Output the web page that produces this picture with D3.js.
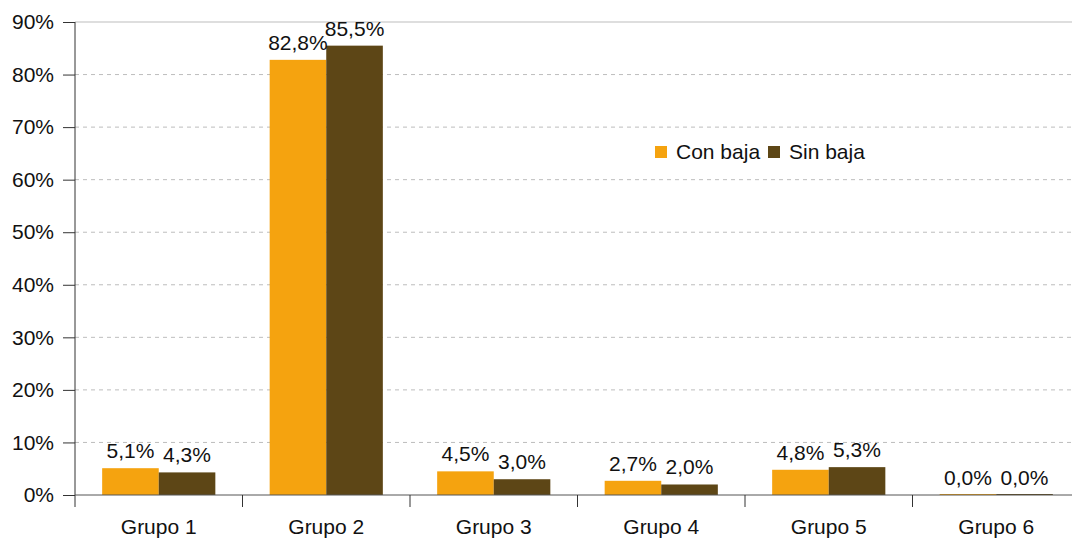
<!DOCTYPE html>
<html><head><meta charset="utf-8">
<script src="https://cdn.jsdelivr.net/npm/d3@7"></script>
<style>body{margin:0;background:#fff}svg{display:block;font-family:"Liberation Sans",Arial,sans-serif}</style>
</head><body><svg id="c" width="1072" height="538"></svg>
<script>
const categories = ["Grupo 1","Grupo 2","Grupo 3","Grupo 4","Grupo 5","Grupo 6"];
const seriesNames = ["Con baja","Sin baja"];
const conBaja = [5.1, 82.8, 4.5, 2.7, 4.8, 0.0];
const sinBaja = [4.3, 85.5, 3.0, 2.0, 5.3, 0.0];
const yTicks = [0,10,20,30,40,50,60,70,80,90];
const colors = ["#f5a30f","#5d4616"];

(function(){
const FS = 21;
const svg = d3.select("#c");
const mLeft = 75, mRight = 1080, mTop = 22, mBottom = 495;
const x = d3.scaleBand().domain(categories).range([mLeft, mRight]).paddingInner(0).paddingOuter(0);
const x1 = d3.scaleBand().domain(seriesNames).range([0, x.bandwidth()]).paddingOuter(0.48).paddingInner(0);
const y = d3.scaleLinear().domain([0, 90]).range([mBottom, mTop]);

// grid
svg.append("g").selectAll("line").data(yTicks.filter(d => d > 0)).join("line")
  .attr("x1", mLeft).attr("x2", 1072).attr("y1", d => y(d)).attr("y2", d => y(d))
  .attr("stroke", "#bdbdbd").attr("stroke-width", 1)
  .attr("stroke-dasharray", d => d === 90 ? null : "4,4");

const data = categories.map((c, i) => ({c, vals: [conBaja[i], sinBaja[i]]}));
const g = svg.append("g").selectAll("g").data(data).join("g")
  .attr("transform", d => `translate(${x(d.c)},0)`);
g.selectAll("rect").data(d => d.vals.map((v, j) => ({v, s: seriesNames[j], j}))).join("rect")
  .attr("x", d => x1(d.s)).attr("width", x1.bandwidth())
  .attr("y", d => Math.min(y(d.v), mBottom - 1)).attr("height", d => Math.max(mBottom - y(d.v), 1))
  .attr("fill", d => colors[d.j]);
g.selectAll("text").data(d => d.vals.map((v, j) => ({v, s: seriesNames[j]}))).join("text")
  .attr("x", d => x1(d.s) + x1.bandwidth() / 2).attr("y", d => y(d.v) - 10)
  .attr("text-anchor", "middle").attr("font-size", FS).attr("fill", "#111")
  .text(d => d.v.toFixed(1).replace(".", ",") + "%");

// y axis
const ya = svg.append("g").attr("transform", `translate(${mLeft},0)`)
  .call(d3.axisLeft(y).tickValues(yTicks).tickFormat(d => d + "%").tickSize(12).tickPadding(9));
ya.select(".domain").remove();
ya.selectAll("line").attr("stroke", "#333");
ya.selectAll("text").attr("font-size", FS).attr("fill", "#111").attr("font-family", "Liberation Sans, Arial, sans-serif");
svg.append("line").attr("x1", mLeft).attr("x2", mLeft).attr("y1", mTop).attr("y2", mBottom + 12).attr("stroke", "#333");

// x axis
svg.append("line").attr("x1", mLeft).attr("x2", 1072).attr("y1", mBottom).attr("y2", mBottom).attr("stroke", "#555");
svg.append("g").selectAll("line").data(categories.slice(1)).join("line")
  .attr("x1", d => x(d)).attr("x2", d => x(d)).attr("y1", mBottom).attr("y2", mBottom + 12).attr("stroke", "#333");
svg.append("g").selectAll("text").data(categories).join("text")
  .attr("x", d => x(d) + x.bandwidth() / 2).attr("y", 534).attr("text-anchor", "middle")
  .attr("font-size", FS).attr("fill", "#111").text(d => d);

// legend
const leg = svg.append("g").attr("transform", "translate(655,146)");
const lx = [0, 113];
seriesNames.forEach((s, i) => {
  leg.append("rect").attr("x", lx[i]).attr("y", 0).attr("width", 12).attr("height", 12).attr("fill", colors[i]);
  leg.append("text").attr("x", lx[i] + 21).attr("y", 13).attr("font-size", FS).attr("fill", "#111").text(s);
});
})();
</script></body></html>
